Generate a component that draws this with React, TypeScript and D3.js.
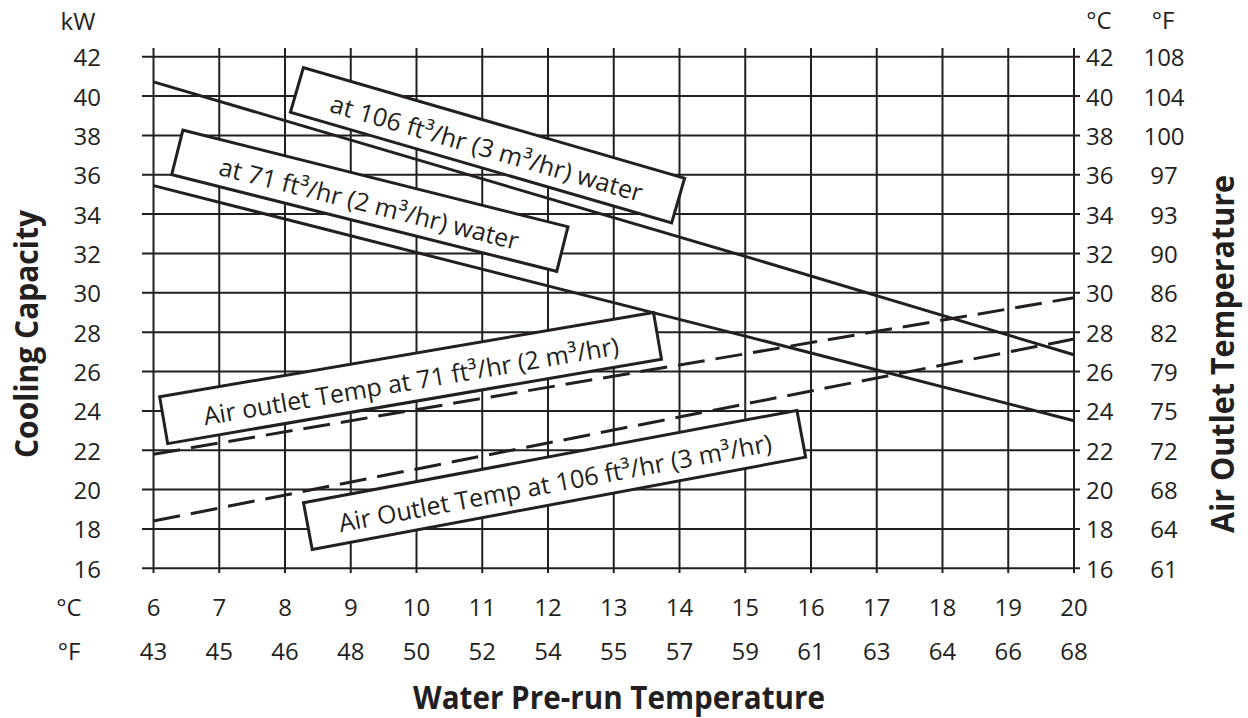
import React from 'react';
import * as d3 from 'd3';

const waterTempC = [6, 7, 8, 9, 10, 11, 12, 13, 14, 15, 16, 17, 18, 19, 20];
const waterTempF = [43, 45, 46, 48, 50, 52, 54, 55, 57, 59, 61, 63, 64, 66, 68];
const capacityTicks = [16, 18, 20, 22, 24, 26, 28, 30, 32, 34, 36, 38, 40, 42];
const outletTempF = [61, 64, 68, 72, 75, 79, 82, 86, 90, 93, 97, 100, 104, 108];

const seriesX = [6, 15, 20];
const capacity3 = [40.72, 31.85, 26.85];
const capacity2 = [35.45, 27.8, 23.5];
const airOutlet2 = [21.8, 26.9, 29.75];
const airOutlet3 = [18.4, 24.35, 27.65];

const series = [
  { name: 'cap3', values: capacity3, dashed: false },
  { name: 'cap2', values: capacity2, dashed: false },
  { name: 'air2', values: airOutlet2, dashed: true },
  { name: 'air3', values: airOutlet3, dashed: true },
];

const labelTexts = [
  'at 106 ft³/hr (3 m³/hr) water',
  'at 71 ft³/hr (2 m³/hr) water',
  'Air outlet Temp at 71 ft³/hr (2 m³/hr)',
  'Air Outlet Temp at 106 ft³/hr (3 m³/hr)',
];
// label anchor points in data units (°C, kW)
const labelAnchorX = [11.08, 9.29, 9.91, 12.1];
const labelAnchorY = [37.5, 34.68, 25.67, 20.49];

// annotation box geometry (pixels / degrees)
const labelGeom = [
  { angle: 16.2, w: 397, h: 46.5, len: 324 },
  { angle: 14.1, w: 397, h: 46, len: 308 },
  { angle: -9.7, w: 501, h: 47.5, len: 421 },
  { angle: -10.6, w: 502, h: 47.5, len: 440 },
];

const INK = '#231f20';
const FONT = '"Open Sans", "Noto Sans", sans-serif';

export default function App() {
  const W = 1248, H = 718;
  const x = d3.scaleLinear().domain([6, 20]).range([153.5, 1074]);
  const y = d3.scaleLinear().domain([16, 42]).range([568.3, 56.7]);
  const line = d3.line<[number, number]>().x(d => x(d[0])).y(d => y(d[1]));

  return (
    <svg width={W} height={H} style={{ position: 'absolute', left: 0, top: 0, background: '#fff' }}
      fontFamily={FONT} fill={INK}>
      <rect width={W} height={H} fill="#fff" />
      {/* grid */}
      <g stroke={INK} strokeWidth={2}>
        {capacityTicks.map(v => (
          <line key={'h' + v} x1={142} x2={1080} y1={y(v)} y2={y(v)} />
        ))}
        {waterTempC.map(v => (
          <line key={'v' + v} x1={x(v)} x2={x(v)} y1={48} y2={573} />
        ))}
      </g>
      {/* left ticks */}
      <text x={78} y={20} fontSize={24} textAnchor="middle" dominantBaseline="central">kW</text>
      {capacityTicks.map(v => (
        <text key={'l' + v} x={101} y={y(v)} fontSize={24} textAnchor="end" dominantBaseline="central">{v}</text>
      ))}
      {/* right ticks */}
      <text x={1099} y={19} fontSize={24} textAnchor="middle" dominantBaseline="central">°C</text>
      <text x={1163} y={19} fontSize={24} textAnchor="middle" dominantBaseline="central">°F</text>
      {capacityTicks.map(v => (
        <text key={'r' + v} x={1086} y={y(v)} fontSize={24} textAnchor="start" dominantBaseline="central">{v}</text>
      ))}
      {outletTempF.map((v, i) => (
        <text key={'rf' + v} x={1164} y={y(capacityTicks[i])} fontSize={24} textAnchor="middle" dominantBaseline="central">{v}</text>
      ))}
      {/* bottom ticks */}
      <text x={69} y={606} fontSize={24} textAnchor="middle" dominantBaseline="central">°C</text>
      <text x={69} y={650} fontSize={24} textAnchor="middle" dominantBaseline="central">°F</text>
      {waterTempC.map(v => (
        <text key={'b' + v} x={x(v)} y={606} fontSize={24} textAnchor="middle" dominantBaseline="central">{v}</text>
      ))}
      {waterTempF.map((v, i) => (
        <text key={'bf' + v + i} x={x(waterTempC[i])} y={650} fontSize={24} textAnchor="middle" dominantBaseline="central">{v}</text>
      ))}
      {/* axis titles */}
      <text x={619} y={709} fontSize={32} fontWeight="bold" textAnchor="middle" textLength={412} lengthAdjust="spacingAndGlyphs">Water Pre-run Temperature</text>
      <text transform={`translate(38,334) rotate(-90)`} fontSize={32} fontWeight="bold" textAnchor="middle" textLength={248} lengthAdjust="spacingAndGlyphs">Cooling Capacity</text>
      <text transform={`translate(1234,354) rotate(-90)`} fontSize={32} fontWeight="bold" textAnchor="middle" textLength={358} lengthAdjust="spacingAndGlyphs">Air Outlet Temperature</text>
      {/* series */}
      {series.map(s => (
        <path key={s.name} d={line(seriesX.map((xv, i) => [xv, s.values[i]]) as [number, number][]) || ''}
          fill="none" stroke={INK} strokeWidth={3} strokeDasharray={s.dashed ? '27,11' : undefined} />
      ))}
      {/* labels */}
      {labelTexts.map((t, i) => {
        const g = labelGeom[i];
        return (
          <g key={t} transform={`translate(${x(labelAnchorX[i])},${y(labelAnchorY[i])}) rotate(${g.angle})`}>
            <rect x={-g.w / 2} y={-g.h / 2} width={g.w} height={g.h} fill="#fff" stroke={INK} strokeWidth={3} />
            <text x={0} y={2} fontSize={25} textAnchor="middle" dominantBaseline="central"
              textLength={g.len} lengthAdjust="spacingAndGlyphs">{t}</text>
          </g>
        );
      })}
    </svg>
  );
}
